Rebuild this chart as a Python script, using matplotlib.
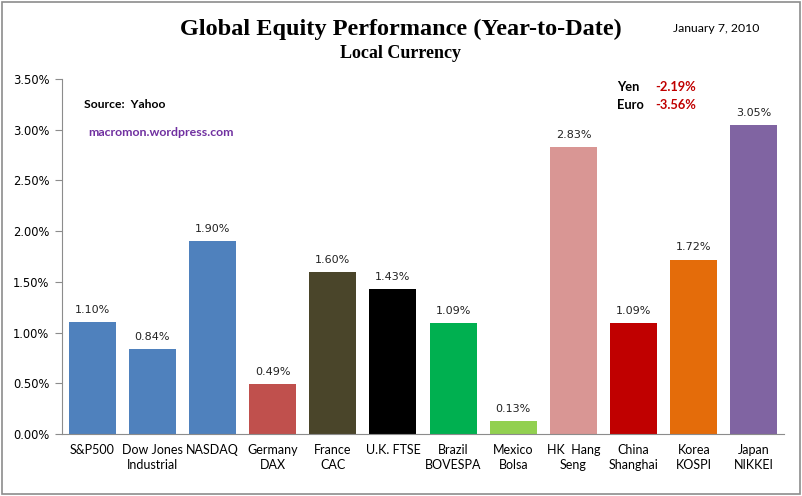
import matplotlib.pyplot as plt
from matplotlib.patches import Rectangle
from matplotlib.ticker import FuncFormatter, MultipleLocator

categories = ['S&P500', 'Dow Jones\nIndustrial', 'NASDAQ', 'Germany\nDAX', 'France\nCAC',
              'U.K. FTSE', 'Brazil\nBOVESPA', 'Mexico\nBolsa', 'HK  Hang\nSeng',
              'China\nShanghai', 'Korea\nKOSPI', 'Japan\nNIKKEI']
values = [1.10, 0.84, 1.90, 0.49, 1.60, 1.43, 1.09, 0.13, 2.83, 1.09, 1.72, 3.05]
colors = ['#4F81BD', '#4F81BD', '#4F81BD', '#C0504D', '#4A452A', '#000000',
          '#00B050', '#92D050', '#D99694', '#C00000', '#E46C0A', '#8064A2']
currency_names = ['Yen', 'Euro']
currency_values = ['-2.19%', '-3.56%']

fig = plt.figure(figsize=(8.02, 4.96), dpi=100)
fig.patches.append(Rectangle((0.002, 0.004), 0.995, 0.992, transform=fig.transFigure,
                             fill=False, edgecolor='#8c8c8c', linewidth=1.2))

ax = fig.add_axes([0.0773, 0.125, 0.9003, 0.7157])
x = range(len(categories))
bars = ax.bar(x, values, width=0.78, color=colors)
for xi, v in zip(x, values):
    ax.text(xi, v + 0.07, f'{v:.2f}%', ha='center', va='bottom', fontsize=8,
            family='DejaVu Sans', color='#222222')

ax.set_xlim(-0.5, len(categories) - 0.5)
ax.set_ylim(0, 3.5)
ax.yaxis.set_major_locator(MultipleLocator(0.5))
ax.yaxis.set_major_formatter(FuncFormatter(lambda v, p: f'{v:.2f}%'))
ax.set_xticks(list(x))
ax.set_xticklabels(categories, family='Lato', fontsize=9, linespacing=1.3)
ax.tick_params(axis='x', length=0, pad=7)
ax.tick_params(axis='y', length=5, color='#8c8c8c', labelsize=8.3, pad=4)
for s in ['top', 'right']:
    ax.spines[s].set_visible(False)
for s in ['left', 'bottom']:
    ax.spines[s].set_color('#8c8c8c')

fig.text(0.5, 0.94, 'Global Equity Performance (Year-to-Date)', ha='center', va='center',
         family='Liberation Serif', fontweight='bold', fontsize=17.5)
fig.text(0.5, 0.893, 'Local Currency', ha='center', va='center',
         family='Liberation Serif', fontweight='bold', fontsize=13)
fig.text(0.893, 0.943, 'January 7, 2010', ha='center', va='center', family='Lato', fontsize=8.8)

fig.text(0.105, 0.79, 'Source:  Yahoo', ha='left', va='center', family='Lato',
         fontweight='bold', fontsize=8.7)
fig.text(0.11, 0.733, 'macromon.wordpress.com', ha='left', va='center', family='Lato',
         fontweight='bold', fontsize=8.9, color='#7030A0')

for i, (n, cv) in enumerate(zip(currency_names, currency_values)):
    yy = 0.824 - i * 0.035
    fig.text(0.769, yy, n, ha='left', va='center', family='Lato', fontweight='bold', fontsize=9.3)
    fig.text(0.817, yy, cv, ha='left', va='center', family='Lato', fontweight='bold',
             fontsize=9.3, color='#C00000')

fig.savefig('out.png', dpi=100)
